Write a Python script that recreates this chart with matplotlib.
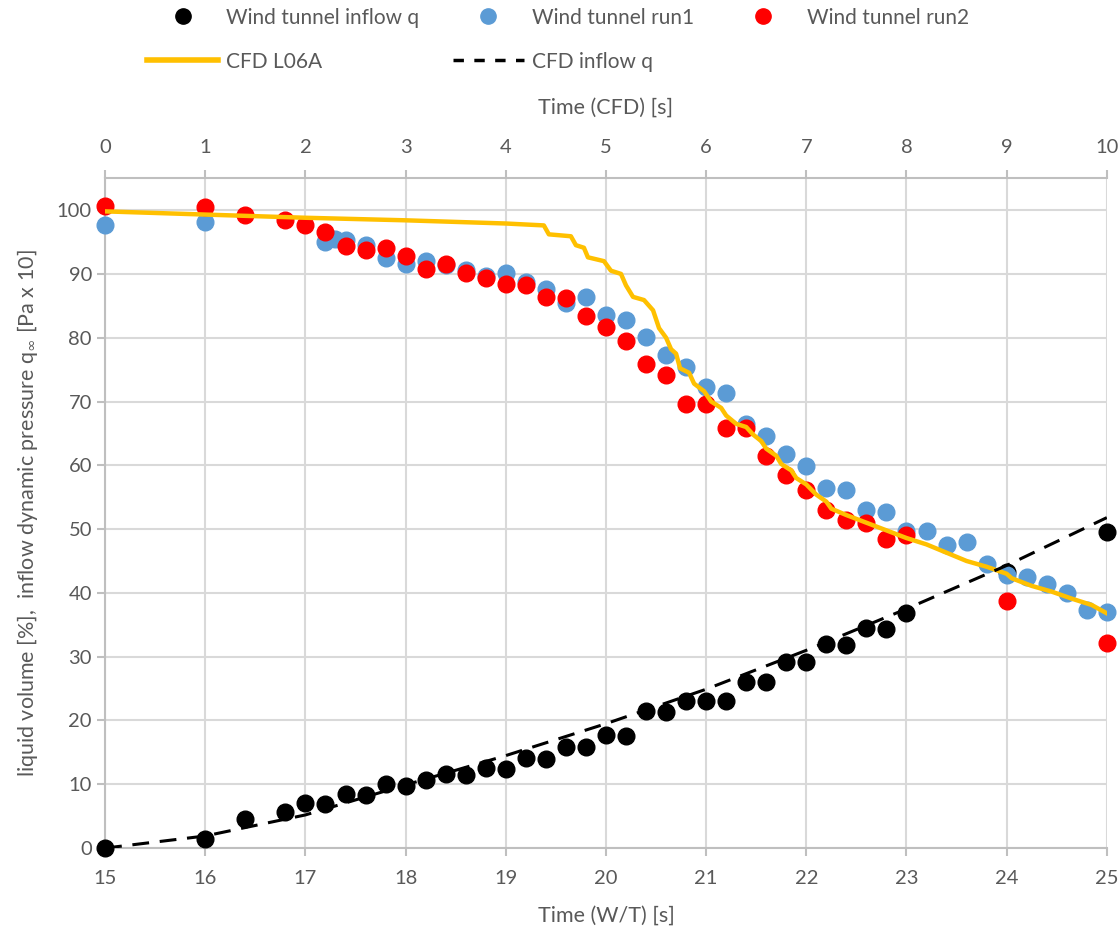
import numpy as np
import matplotlib
matplotlib.use('Agg')
import matplotlib.pyplot as plt
from matplotlib.lines import Line2D

plt.rcParams['font.family'] = ['Lato', 'DejaVu Sans']
TXT = '#595959'

# wind tunnel inflow q (W/T time)
t_inflow = [15, 16, 16.4, 16.8, 17.0, 17.2, 17.4, 17.6, 17.8, 18.0, 18.2, 18.4, 18.6,
            18.8, 19.0, 19.2, 19.4, 19.6, 19.8, 20.0, 20.2, 20.4, 20.6, 20.8, 21.0,
            21.2, 21.4, 21.6, 21.8, 22.0, 22.2, 22.4, 22.6, 22.8, 23.0, 24.0, 25.0]
q_inflow = [0, 1.4, 4.5, 5.6, 7.0, 6.9, 8.5, 8.3, 10.0, 9.7, 10.6, 11.6, 11.4,
            12.5, 12.4, 14.1, 14.0, 15.9, 15.8, 17.7, 17.6, 21.5, 21.4, 23.1, 23.1,
            23.0, 26.1, 26.0, 29.2, 29.1, 32.0, 31.9, 34.5, 34.4, 36.8, 43.3, 49.6]

# wind tunnel run1
t_run1 = [15, 16, 17.2, 17.3, 17.4, 17.6, 17.8, 18.0, 18.2, 18.4, 18.6, 18.8, 19.0,
          19.2, 19.4, 19.6, 19.8, 20.0, 20.2, 20.4, 20.6, 20.8, 21.0, 21.2, 21.4,
          21.6, 21.8, 22.0, 22.2, 22.4, 22.6, 22.8, 23.0, 23.2, 23.4, 23.6, 23.8,
          24.0, 24.2, 24.4, 24.6, 24.8, 25.0]
v_run1 = [97.6, 98.2, 95.0, 95.4, 95.3, 94.5, 92.5, 91.5, 92.0, 91.4, 90.6, 89.6, 90.1,
          88.8, 87.7, 85.4, 86.4, 83.5, 82.8, 80.1, 77.3, 75.4, 72.3, 71.3, 66.4,
          64.6, 61.8, 59.9, 56.5, 56.2, 53.0, 52.7, 49.7, 49.7, 47.5, 48.0, 44.6,
          42.8, 42.5, 41.4, 40.0, 37.3, 37.0]

# wind tunnel run2
t_run2 = [15, 16, 16.4, 16.8, 17.0, 17.2, 17.4, 17.6, 17.8, 18.0, 18.2, 18.4, 18.6,
          18.8, 19.0, 19.2, 19.4, 19.6, 19.8, 20.0, 20.2, 20.4, 20.6, 20.8, 21.0,
          21.2, 21.4, 21.6, 21.8, 22.0, 22.2, 22.4, 22.6, 22.8, 23.0, 24.0, 25.0]
v_run2 = [100.6, 100.5, 99.2, 98.4, 97.6, 96.6, 94.3, 93.8, 94.1, 92.8, 90.7, 91.5, 90.2,
          89.4, 88.4, 88.2, 86.4, 86.3, 83.4, 81.6, 79.5, 75.9, 74.2, 69.6, 69.6,
          65.9, 65.8, 61.4, 58.5, 56.2, 53.0, 51.5, 51.0, 48.4, 49.1, 38.8, 32.1]

# CFD L06A (CFD time)
t_cfd = [0.0, 1.0, 2.0, 3.0, 4.0, 4.38, 4.43, 4.65, 4.70, 4.78, 4.82, 4.98, 5.05,
         5.15, 5.20, 5.27, 5.38, 5.47, 5.53, 5.60, 5.65, 5.70, 5.74, 5.83, 5.88,
         5.98, 6.05, 6.15, 6.20, 6.30, 6.40, 6.47, 6.55, 6.60, 6.70, 6.75, 6.85,
         6.90, 7.00, 7.10, 7.20, 7.25, 7.40, 7.60, 7.80, 8.00, 8.20, 8.40, 8.60,
         8.80, 9.00, 9.05, 9.25, 9.45, 9.65, 9.85, 10.0]
v_cfd = [99.8, 99.3, 98.8, 98.4, 97.9, 97.6, 96.2, 95.9, 94.5, 94.1, 92.6, 92.0, 90.5,
         90.0, 88.2, 86.4, 85.9, 84.3, 81.5, 80.0, 78.2, 77.5, 75.2, 74.5, 72.8,
         71.6, 70.0, 69.0, 67.8, 66.5, 66.0, 64.8, 63.8, 62.6, 61.5, 60.2, 59.2,
         58.0, 57.0, 55.4, 54.3, 53.2, 52.2, 51.0, 49.8, 48.6, 47.6, 46.3, 45.0,
         44.1, 43.0, 42.3, 41.1, 40.2, 39.1, 38.1, 36.8]

# CFD inflow q (CFD time)
t_cfdq = [0, 1, 2, 3, 4, 5, 6, 7, 8, 9, 10]
v_cfdq = [0, 1.9, 5.2, 9.9, 14.5, 19.5, 24.9, 31.0, 37.5, 44.3, 51.8]

fig = plt.figure(figsize=(11.18, 9.33), dpi=100)
ax = fig.add_axes([0.094, 0.091, 0.896, 0.718])
ax2 = ax.twiny()

ax.set_xlim(15, 25)
ax.set_ylim(0, 105)
ax.set_xticks(range(15, 26))
ax.set_yticks(range(0, 101, 10))
ax2.set_xlim(0, 10)
ax2.set_xticks(range(0, 11))

ax.grid(True, color='#d9d9d9', lw=1.5)
ax.set_axisbelow(True)
for a in (ax, ax2):
    for s in a.spines.values():
        s.set_visible(False)
ax.spines['bottom'].set_visible(True)
ax.spines['left'].set_visible(True)
ax2.spines['top'].set_visible(True)
for s in (ax.spines['bottom'], ax.spines['left'], ax2.spines['top']):
    s.set_color('#bfbfbf')
    s.set_linewidth(1.5)

ax.tick_params(axis='both', colors='#bfbfbf', labelcolor=TXT, labelsize=14.5,
               length=6, width=1.5)
ax.tick_params(axis='x', pad=10)
ax2.tick_params(axis='x', colors='#bfbfbf', labelcolor=TXT, labelsize=14.5,
                length=6, width=1.5, pad=10)

ms = 12
ax.plot(t_inflow, q_inflow, 'o', color='black', ms=ms, zorder=3, clip_on=False)
ax.plot(t_run1, v_run1, 'o', color='#5b9bd5', ms=ms, zorder=3, clip_on=False)
ax.plot(t_run2, v_run2, 'o', color='#ff0000', ms=ms, zorder=4, clip_on=False)
ax2.plot(t_cfd, v_cfd, '-', color='#ffc000', lw=3.2, zorder=5)
ax2.plot(t_cfdq, v_cfdq, '--', color='black', lw=2.2, dashes=(5.5, 3.5), zorder=5)
ax2.set_ylim(0, 105)
ax2.set_zorder(ax.get_zorder() + 1)
ax2.patch.set_visible(False)

ax.set_xlabel('Time (W/T) [s]', fontsize=15.5, color=TXT, labelpad=13)
ax2.set_xlabel('Time (CFD) [s]', fontsize=15.5, color=TXT, labelpad=18)
ax.set_ylabel(r'liquid volume [%],  inflow dynamic pressure q$_{\infty}$ [Pa x 10]',
              fontsize=15.5, color=TXT, labelpad=12)

handles = [
    Line2D([], [], ls='none', marker='o', color='black', ms=11),
    Line2D([], [], color='#ffc000', lw=4),
    Line2D([], [], ls='none', marker='o', color='#5b9bd5', ms=11),
    Line2D([], [], color='black', lw=2.5, ls='--', dashes=(3, 3)),
    Line2D([], [], ls='none', marker='o', color='#ff0000', ms=11),
]
labels = ['Wind tunnel inflow q', 'CFD L06A', 'Wind tunnel run1',
          'CFD inflow q', 'Wind tunnel run2']
leg = fig.legend(handles, labels, ncol=3, loc='upper center',
                 bbox_to_anchor=(0.499, 1.012), frameon=False, fontsize=15,
                 handlelength=3.4, columnspacing=1.6, labelspacing=1.15,
                 handletextpad=0.4)
for t in leg.get_texts():
    t.set_color(TXT)

fig.savefig('out.png', dpi=100)
